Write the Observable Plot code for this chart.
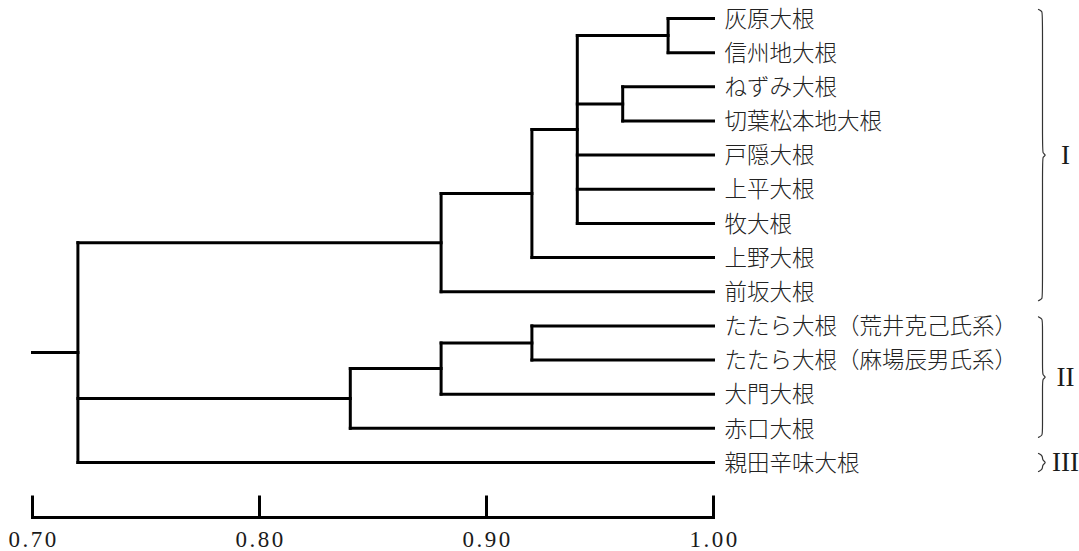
<!DOCTYPE html>
<html>
<head>
<meta charset="utf-8">
<script src="https://cdn.jsdelivr.net/npm/d3@7"></script>
<script src="https://cdn.jsdelivr.net/npm/@observablehq/plot@0.6"></script>
<style>
  html, body { margin: 0; padding: 0; background: #fff; }
  #chart svg { display: block; overflow: visible; }
</style>
</head>
<body>
<div id="chart"></div>
<script>
// ---- data ----
const leafNames = [
  "灰原大根", "信州地大根", "ねずみ大根", "切葉松本地大根", "戸隠大根",
  "上平大根", "牧大根", "上野大根", "前坂大根",
  "たたら大根（荒井克己氏系）", "たたら大根（麻場辰男氏系）",
  "大門大根", "赤口大根", "親田辛味大根"
];
const leafHeight = 1.00;
const mergeIds      = ["a", "b", "c", "d", "e", "f", "g", "h", "root"];
const mergeHeights  = [0.98, 0.96, 0.94, 0.92, 0.88, 0.92, 0.88, 0.84, 0.72];
const mergeChildren = [
  [0, 1], [2, 3], ["a", "b", 4, 5, 6], ["c", 7], ["d", 8],
  [9, 10], ["f", 11], ["g", 12], ["e", "h", 13]
];
const rootStart = 0.70;
const xTicks = [0.70, 0.80, 0.90, 1.00];
const tickLabels = ["0.70", "0.80", "0.90", "1.00"];
const groupLabels = ["I", "II", "III"];
const groupFirst = [0, 9, 13];
const groupLast  = [8, 12, 13];

// ---- build dendrogram segments ----
const nodes = new Map();
leafNames.forEach((n, i) => nodes.set(i, {x: leafHeight, y: i}));
const segments = [];
mergeIds.forEach((id, k) => {
  const h = mergeHeights[k];
  const kids = mergeChildren[k].map(c => nodes.get(c));
  const yFirst = kids[0].y, yLast = kids[kids.length - 1].y;
  segments.push({x1: h, x2: h, y1: yFirst, y2: yLast});
  kids.forEach(c => segments.push({x1: h, x2: c.x, y1: c.y, y2: c.y}));
  nodes.set(id, {x: h, y: (yFirst + yLast) / 2});
});
const root = nodes.get("root");
segments.push({x1: rootStart, x2: root.x, y1: root.y, y2: root.y});

// ---- layout ----
const W = 1079, H = 551;
const x0px = 32, x1px = 713, yTop = 18, yBot = 462;
const rowPx = (yBot - yTop) / (leafNames.length - 1);
const xPerPx = (xTicks[xTicks.length - 1] - xTicks[0]) / (x1px - x0px);
const lastRow = leafNames.length - 1;
const axisRow = lastRow + 55 / rowPx;
const tickTopRow = lastRow + 33 / rowPx;

// braces
const braceX = leafHeight + 329 * xPerPx;
const braceData = [];
groupLabels.forEach((g, k) => {
  const top = groupFirst[k] - 9 / rowPx, bot = groupLast[k] + 9 / rowPx;
  const mid = (groupFirst[k] + groupLast[k]) / 2;
  const px = v => v * xPerPx, py = v => v / rowPx;
  const pts = [
    [-4, top], [0, top + py(2)], [0, top + py(6)], [0, mid - py(6)], [0, mid - py(2)],
    [4, mid], [0, mid + py(2)], [0, mid + py(6)], [0, bot - py(6)], [0, bot - py(2)], [-4, bot]
  ];
  pts.forEach(([dx, y]) => braceData.push({g, x: braceX + px(dx), y}));
});
const groupRows = groupLabels.map((g, k) => ({g, y: (groupFirst[k] + groupLast[k]) / 2}));

const chart = Plot.plot({
  width: W, height: H,
  marginLeft: x0px, marginRight: W - x1px, marginTop: yTop, marginBottom: H - yBot,
  x: {domain: [xTicks[0], xTicks[xTicks.length - 1]], axis: null},
  y: {domain: [0, lastRow], range: [yTop, yBot], axis: null},
  style: {background: "#fff"},
  marks: [
    Plot.link(segments, {x1: "x1", y1: "y1", x2: "x2", y2: "y2",
      stroke: "#000", strokeWidth: 3, strokeLinecap: "square"}),
    Plot.text(leafNames, {x: leafHeight, y: (d, i) => i, text: d => d,
      textAnchor: "start", dx: 11, dy: 1, fontFamily: "Noto Sans CJK JP", fontWeight: 300,
      fontSize: 22.5, fill: "#222"}),
    // axis
    Plot.link([0], {x1: xTicks[0], x2: xTicks[xTicks.length - 1], y1: axisRow, y2: axisRow,
      stroke: "#000", strokeWidth: 3, strokeLinecap: "square"}),
    Plot.link(xTicks, {x1: d => d, x2: d => d, y1: tickTopRow, y2: axisRow,
      stroke: "#000", strokeWidth: 3, strokeLinecap: "butt"}),
    Plot.text(xTicks, {x: d => d, y: axisRow, dy: 22, dx: 1, text: (d, i) => tickLabels[i],
      fontFamily: "Liberation Serif", fontSize: 23, fill: "#1a1a1a"}),
    // group braces
    Plot.line(braceData, {x: "x", y: "y", z: "g", curve: "basis", stroke: "#333", strokeWidth: 1.2}),
    Plot.text(groupRows, {x: leafHeight, y: "y", dx: 352, text: "g",
      fontFamily: "Liberation Serif", fontSize: 27, fill: "#1a1a1a"})
  ]
});
d3.select(chart).selectAll("text")
  .filter(function () { return tickLabels.includes(this.textContent); })
  .attr("letter-spacing", "2.5px");
document.getElementById("chart").appendChild(chart);
</script>
</body>
</html>
